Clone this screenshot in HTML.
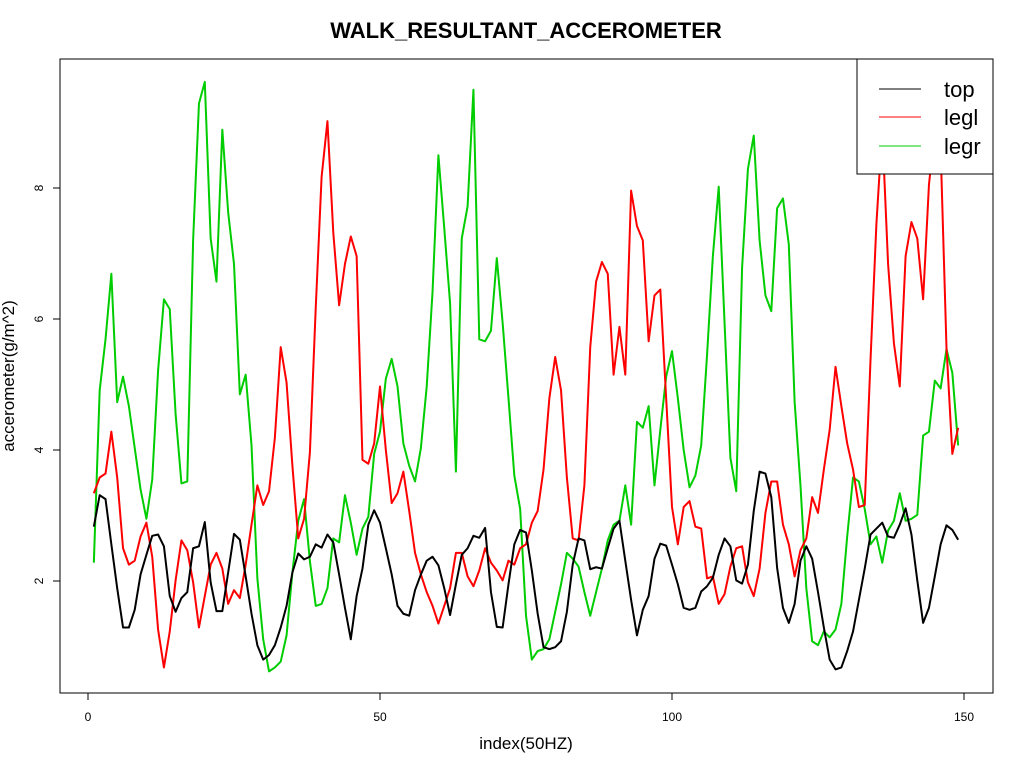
<!DOCTYPE html>
<html><head><meta charset="utf-8"><style>
html,body{margin:0;padding:0;background:#fff;}
svg{display:block;font-family:"Liberation Sans",Arial,sans-serif;}
</style></head><body>
<svg id="chart" width="1024" height="768" viewBox="0 0 1024 768" xmlns="http://www.w3.org/2000/svg">
<rect x="0" y="0" width="1024" height="768" fill="#fff"/>
<text x="526" y="38" text-anchor="middle" font-size="22" font-weight="bold">WALK_RESULTANT_ACCEROMETER</text>
<text x="526" y="749" text-anchor="middle" font-size="17">index(50HZ)</text>
<text transform="translate(14,376) rotate(-90)" text-anchor="middle" font-size="17">accerometer(g/m^2)</text>
<g id="axes"></g>
<g id="series"></g>
<rect x="60" y="59" width="933" height="634" fill="none" stroke="#000" stroke-width="1"/>
<g>
<rect x="857" y="59" width="136" height="115" fill="#fff" stroke="#000" stroke-width="1"/>
<line x1="879" y1="89" x2="921" y2="89" stroke="#000" stroke-width="1"/>
<text x="944" y="97" font-size="22">top</text>
<line x1="879" y1="117" x2="921" y2="117" stroke="#ff0000" stroke-width="1"/>
<text x="944" y="125" font-size="22">legl</text>
<line x1="879" y1="146" x2="921" y2="146" stroke="#00cd00" stroke-width="1"/>
<text x="944" y="154" font-size="22">legr</text>
</g>
</svg>
<script>
const xTicks = [0, 50, 100, 150];
const yTicks = [2, 4, 6, 8];
const topVals = [2.83,3.31,3.25,2.56,1.89,1.29,1.29,1.56,2.10,2.40,2.69,2.71,2.53,1.77,1.53,1.74,1.83,2.50,2.53,2.90,1.98,1.54,1.54,2.13,2.72,2.63,2.07,1.50,1.02,0.80,0.87,1.02,1.29,1.62,2.13,2.42,2.33,2.37,2.56,2.51,2.71,2.59,2.10,1.59,1.11,1.77,2.19,2.86,3.08,2.89,2.50,2.10,1.62,1.50,1.47,1.86,2.10,2.31,2.37,2.24,1.89,1.48,1.95,2.40,2.50,2.69,2.66,2.81,1.83,1.30,1.29,1.95,2.56,2.78,2.74,2.16,1.50,0.99,0.96,0.99,1.08,1.53,2.25,2.65,2.62,2.18,2.21,2.19,2.50,2.80,2.92,2.31,1.71,1.17,1.56,1.77,2.34,2.57,2.54,2.25,1.95,1.59,1.56,1.59,1.84,1.92,2.05,2.40,2.65,2.53,2.01,1.96,2.25,3.07,3.67,3.64,3.28,2.20,1.59,1.36,1.65,2.31,2.53,2.34,1.83,1.29,0.80,0.65,0.68,0.93,1.23,1.71,2.19,2.71,2.80,2.89,2.68,2.66,2.86,3.11,2.71,2.01,1.36,1.59,2.07,2.56,2.85,2.78,2.63];
const leglVals = [3.34,3.58,3.64,4.28,3.58,2.50,2.25,2.31,2.68,2.89,2.37,1.26,0.68,1.23,2.01,2.62,2.47,1.98,1.29,1.77,2.25,2.43,2.19,1.65,1.86,1.74,2.25,2.86,3.46,3.16,3.37,4.19,5.57,5.03,3.76,2.65,2.95,3.97,6.18,8.17,9.02,7.32,6.21,6.84,7.26,6.96,3.85,3.79,4.10,4.97,4.00,3.19,3.34,3.67,3.07,2.43,2.10,1.83,1.62,1.35,1.62,1.89,2.43,2.43,2.07,1.92,2.16,2.50,2.28,2.16,2.01,2.31,2.25,2.50,2.56,2.89,3.07,3.70,4.79,5.42,4.91,3.58,2.65,2.62,3.46,5.57,6.57,6.87,6.69,5.15,5.88,5.15,7.96,7.42,7.20,5.66,6.36,6.45,4.79,3.13,2.56,3.13,3.22,2.83,2.80,2.04,2.07,1.65,1.80,2.22,2.50,2.53,1.98,1.77,2.19,3.04,3.52,3.52,2.86,2.56,2.07,2.47,2.65,3.28,3.04,3.70,4.31,5.27,4.67,4.10,3.70,3.13,3.16,5.39,7.45,8.90,6.84,5.63,4.97,6.96,7.48,7.23,6.30,8.05,8.90,8.60,5.57,3.94,4.34];
const legrVals = [2.28,4.91,5.69,6.69,4.73,5.12,4.67,4.03,3.40,2.95,3.55,5.21,6.30,6.15,4.55,3.49,3.52,7.20,9.29,9.62,7.23,6.57,8.89,7.63,6.84,4.85,5.15,4.07,2.04,1.11,0.62,0.68,0.77,1.17,2.13,2.92,3.25,2.30,1.62,1.65,1.89,2.65,2.59,3.31,2.89,2.40,2.80,2.98,3.94,4.28,5.09,5.39,4.97,4.10,3.76,3.52,4.03,4.97,6.42,8.50,7.39,6.24,3.67,7.23,7.72,9.50,5.69,5.66,5.82,6.93,5.94,4.79,3.61,3.10,1.47,0.80,0.93,0.96,1.11,1.53,1.95,2.43,2.34,2.22,1.83,1.47,1.83,2.19,2.62,2.86,2.92,3.46,2.86,4.43,4.34,4.67,3.46,4.31,5.12,5.51,4.79,4.00,3.43,3.61,4.07,5.45,6.96,8.02,5.94,3.88,3.37,6.78,8.29,8.80,7.20,6.36,6.12,7.69,7.84,7.14,4.73,3.46,1.89,1.08,1.02,1.23,1.14,1.26,1.65,2.68,3.58,3.52,3.10,2.56,2.68,2.28,2.77,2.92,3.34,2.92,2.95,3.01,4.22,4.28,5.06,4.94,5.54,5.18,4.07];

const NS = "http://www.w3.org/2000/svg";
function xScale(v){ return 88 + v * 5.84; }
function yScale(v){ return 712 - v * 65.5; }

const axes = document.getElementById('axes');
function mk(tag, attrs){ const e = document.createElementNS(NS, tag); for (const k in attrs) e.setAttribute(k, attrs[k]); return e; }

const xAxisLine = mk('line', {x1: xScale(xTicks[0]), y1: 693, x2: xScale(xTicks[xTicks.length-1]), y2: 693, stroke: '#000'});


axes.appendChild(xAxisLine);
xTicks.forEach(t => {
  const tk = mk('line', {x1: xScale(t), y1: 693, x2: xScale(t), y2: 700, stroke: '#000'});
  
  
  axes.appendChild(tk);
  const lb = mk('text', {x: xScale(t), y: 721, 'text-anchor': 'middle', 'font-size': 12});
  
  
  lb.textContent = t;
  axes.appendChild(lb);
});
const yAxisLine = mk('line', {x1: 60, y1: yScale(yTicks[0]), x2: 60, y2: yScale(yTicks[yTicks.length-1]), stroke: '#000'});


axes.appendChild(yAxisLine);
yTicks.forEach(t => {
  const tk = mk('line', {x1: 53, y1: yScale(t), x2: 60, y2: yScale(t), stroke: '#000'});
  
  
  axes.appendChild(tk);
  const lb = mk('text', {transform: 'translate(43,' + yScale(t) + ') rotate(-90)', 'text-anchor': 'middle', 'font-size': 12});
  
  
  lb.textContent = t;
  axes.appendChild(lb);
});

const series = document.getElementById('series');
function drawSeries(vals, color, name){
  const pts = vals.map((v, i) => xScale(i + 1).toFixed(2) + ',' + yScale(v).toFixed(2)).join(' ');
  const pl = mk('polyline', {points: pts, fill: 'none', stroke: color, 'stroke-width': 2, 'stroke-linejoin': 'round'});
  
  
  series.appendChild(pl);
}
drawSeries(legrVals, '#00cd00', 'series-legr');
drawSeries(leglVals, '#ff0000', 'series-legl');
drawSeries(topVals, '#000000', 'series-top');
</script>
</body></html>
